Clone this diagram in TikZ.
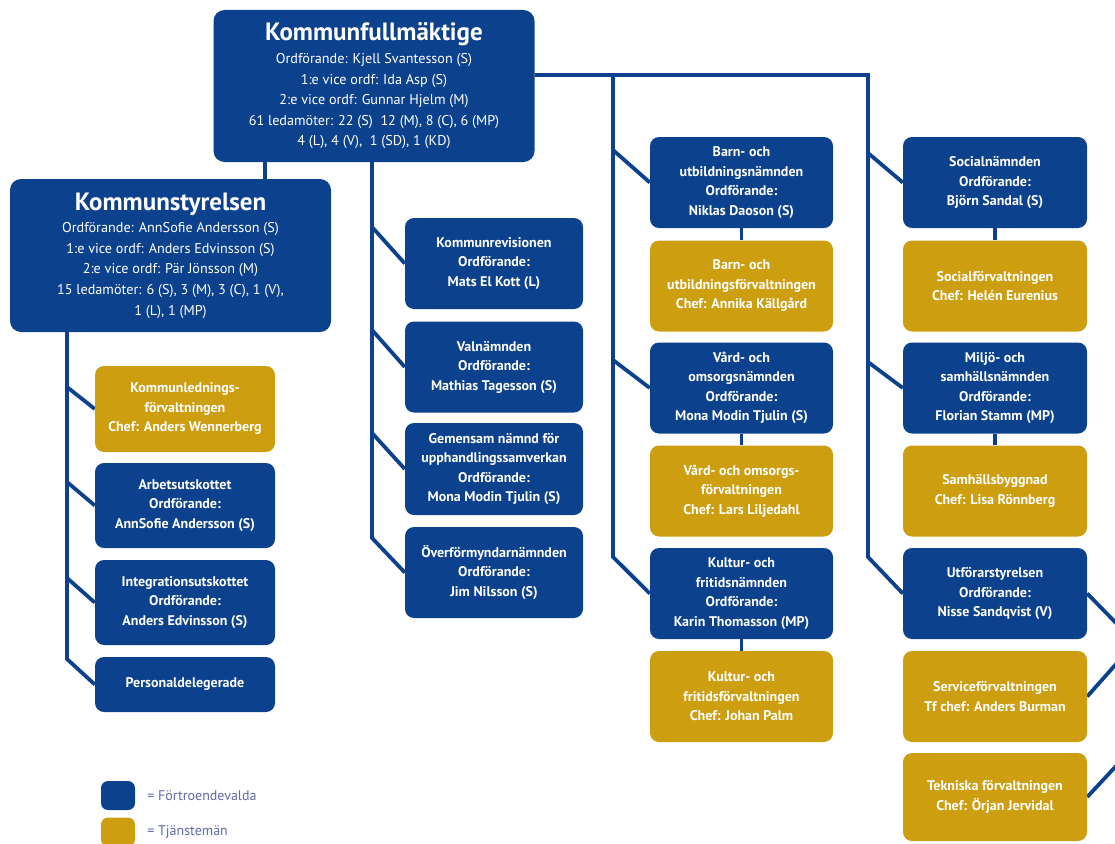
\documentclass[tikz,border=0pt]{standalone}
\usepackage{fontspec}
\setmainfont{PT Sans}
\usetikzlibrary{backgrounds,calc}
\definecolor{kblue}{RGB}{12,66,141}
\definecolor{kgold}{RGB}{205,158,16}
\definecolor{klegend}{RGB}{95,105,165}
\tikzset{
  org/.style={rectangle, rounded corners=9pt, inner sep=0pt, text=white, align=center,
    font=\bfseries\fontsize{14}{19.5}\selectfont},
  nb/.style={org, fill=kblue},
  ng/.style={org, fill=kgold},
  bigbox/.style={org, fill=kblue, rounded corners=11pt, font=\fontsize{14.2}{20.6}\selectfont},
  conn/.style={draw=kblue, line width=3.8pt},
  legbox/.style={rectangle, rounded corners=7pt, minimum width=34pt, minimum height=29pt, inner sep=0pt},
  legtext/.style={anchor=west, text=klegend, font=\fontsize{14}{16}\selectfont, inner sep=0pt},
  colL/.style={minimum width=180pt, minimum height=86pt},
  colM/.style={minimum width=178pt, minimum height=91pt},
  colC/.style={minimum width=183pt, minimum height=91pt},
  colR/.style={minimum width=184pt, minimum height=91pt}
}
\newcommand{\ttlfont}{\fontsize{25}{27}\selectfont\bfseries}
\begin{document}
\begin{tikzpicture}[x=1pt,y=-1pt]
\useasboundingbox (0,0) rectangle (1115,843);
\clip (0,0) rectangle (1115,843);

% main boxes
\node[bigbox, minimum width=321pt, minimum height=152pt] (kf) at (374,86)
  {{\ttlfont Kommunfullmäktige}\\[2pt]
   Ordförande: Kjell Svantesson (S)\\
   1:e vice ordf: Ida Asp (S)\\
   2:e vice ordf: Gunnar Hjelm (M)\\
   61 ledamöter: 22 (S)\ \ 12 (M), 8 (C), 6 (MP)\\
   4 (L), 4 (V),\ \ 1 (SD), 1 (KD)};
\node[bigbox, minimum width=321pt, minimum height=153pt] (ks) at (170.5,255.5)
  {{\ttlfont Kommunstyrelsen}\\[2pt]
   Ordförande: AnnSofie Andersson (S)\\
   1:e vice ordf: Anders Edvinsson (S)\\
   2:e vice ordf: Pär Jönsson (M)\\
   15 ledamöter: 6 (S), 3 (M), 3 (C), 1 (V),\\
   1 (L), 1 (MP)};

% left column
\node[ng, colL] (klf) at (185,409) {Kommunlednings-\\förvaltningen\\Chef: Anders Wennerberg};
\node[nb, colL, minimum height=85pt] (au) at (185,505.5) {Arbetsutskottet\\Ordförande:\\AnnSofie Andersson (S)};
\node[nb, colL, minimum height=85pt] (iu) at (185,602.5) {Integrationsutskottet\\Ordförande:\\Anders Edvinsson (S)};
\node[nb, colL, minimum height=55pt] (pd) at (185,684.5) {Personaldelegerade};

% middle column
\node[nb, colM] (krev) at (494,263.5) {Kommunrevisionen\\Ordförande:\\Mats El Kott (L)};
\node[nb, colM] (vn) at (494,367) {Valnämnden\\Ordförande:\\Mathias Tagesson (S)};
\node[nb, colM, minimum height=92pt] (gn) at (494,469) {Gemensam nämnd för\\upphandlingssamverkan\\Ordförande:\\Mona Modin Tjulin (S)};
\node[nb, colM] (ofn) at (494,572.5) {Överförmyndarnämnden\\Ordförande:\\Jim Nilsson (S)};

% third column
\node[nb, colC] (bun) at (741.5,182.5) {Barn- och\\utbildningsnämnden\\Ordförande:\\Niklas Daoson (S)};
\node[ng, colC] (buf) at (741.5,286) {Barn- och\\utbildningsförvaltningen\\Chef: Annika Källgård};
\node[nb, colC] (von) at (741.5,388) {Vård- och\\omsorgsnämnden\\Ordförande:\\Mona Modin Tjulin (S)};
\node[ng, colC] (vof) at (741.5,491) {Vård- och omsorgs-\\förvaltningen\\Chef: Lars Liljedahl};
\node[nb, colC] (kfn) at (741.5,593.5) {Kultur- och\\fritidsnämnden\\Ordförande:\\Karin Thomasson (MP)};
\node[ng, colC] (kff) at (741.5,696.5) {Kultur- och\\fritidsförvaltningen\\Chef: Johan Palm};

% fourth column
\node[nb, colR] (soc) at (995,182.5) {Socialnämnden\\Ordförande:\\Björn Sandal (S)};
\node[ng, colR] (sof) at (995,286) {Socialförvaltningen\\Chef: Helén Eurenius};
\node[nb, colR] (mil) at (995,388) {Miljö- och\\samhällsnämnden\\Ordförande:\\Florian Stamm (MP)};
\node[ng, colR] (sam) at (995,491) {Samhällsbyggnad\\Chef: Lisa Rönnberg};
\node[nb, colR] (utf) at (995,593.5) {Utförarstyrelsen\\Ordförande:\\Nisse Sandqvist (V)};
\node[ng, colR] (ser) at (995,696.5) {Serviceförvaltningen\\Tf chef: Anders Burman};
\node[ng, colR, minimum height=88pt] (tek) at (995,797) {Tekniska förvaltningen\\Chef: Örjan Jervidal};

% legend
\node[legbox, fill=kblue] (lgb) at (118,795.5) {};
\node[legbox, fill=kgold] (lgg) at (118,832) {};
\node[legtext] (lgbt) at ($(lgb.east)+(12,0)$) {= Förtroendevalda};
\node[legtext] (lggt) at ($(lgg.east)+(12,0)$) {= Tjänstemän};

% joint coordinates
\coordinate (kfks) at (265,150);
\coordinate (lt) at (67,320);
\coordinate (l1) at (67,387);
\coordinate (l2) at (67,482);
\coordinate (l3) at (67,578);
\coordinate (l4) at (67,659);
\coordinate (mt) at (372,150);
\coordinate (m1) at (372,227);
\coordinate (m2) at (372,330);
\coordinate (m3) at (372,433);
\coordinate (m4) at (372,538);
\coordinate (h3) at (613,75);
\coordinate (h4) at (868,75);
\coordinate (c1) at (613,150);
\coordinate (c2) at (613,360);
\coordinate (c3) at (613,557);
\coordinate (r1) at (868,153);
\coordinate (r2) at (868,362);
\coordinate (r3) at (868,557);
\coordinate (e1) at (1117,624);
\coordinate (e2) at (1117,663);
\coordinate (e3) at (1117,765);

\begin{scope}[on background layer]
  \draw[conn] (kfks) -- (kfks |- ks.north);
  \draw[conn] (lt) -- (l4) -- (pd.west);
  \draw[conn] (l1) -- (klf.west);
  \draw[conn] (l2) -- (au.west);
  \draw[conn] (l3) -- (iu.west);
  \draw[conn] (mt) -- (m4) -- (ofn.west);
  \draw[conn] (m1) -- (krev.west);
  \draw[conn] (m2) -- (vn.west);
  \draw[conn] (m3) -- (gn.west);
  \draw[conn] (kf.east |- h3) -- (h4) -- (r3) -- (utf.west);
  \draw[conn] (h3) -- (c3) -- (kfn.west);
  \draw[conn] (c1) -- (bun.west);
  \draw[conn] (c2) -- (von.west);
  \draw[conn] (r1) -- (soc.west);
  \draw[conn] (r2) -- (mil.west);
  \draw[conn] (bun.south) -- (buf.north);
  \draw[conn] (von.south) -- (vof.north);
  \draw[conn] (kfn.south) -- (kff.north);
  \draw[conn] (soc.south) -- (sof.north);
  \draw[conn] (mil.south) -- (sam.north);
  \draw[conn] (utf.east) -- (e1);
  \draw[conn] (ser.east) -- (e2);
  \draw[conn] (tek.east) -- (e3);
\end{scope}
\end{tikzpicture}
\end{document}
